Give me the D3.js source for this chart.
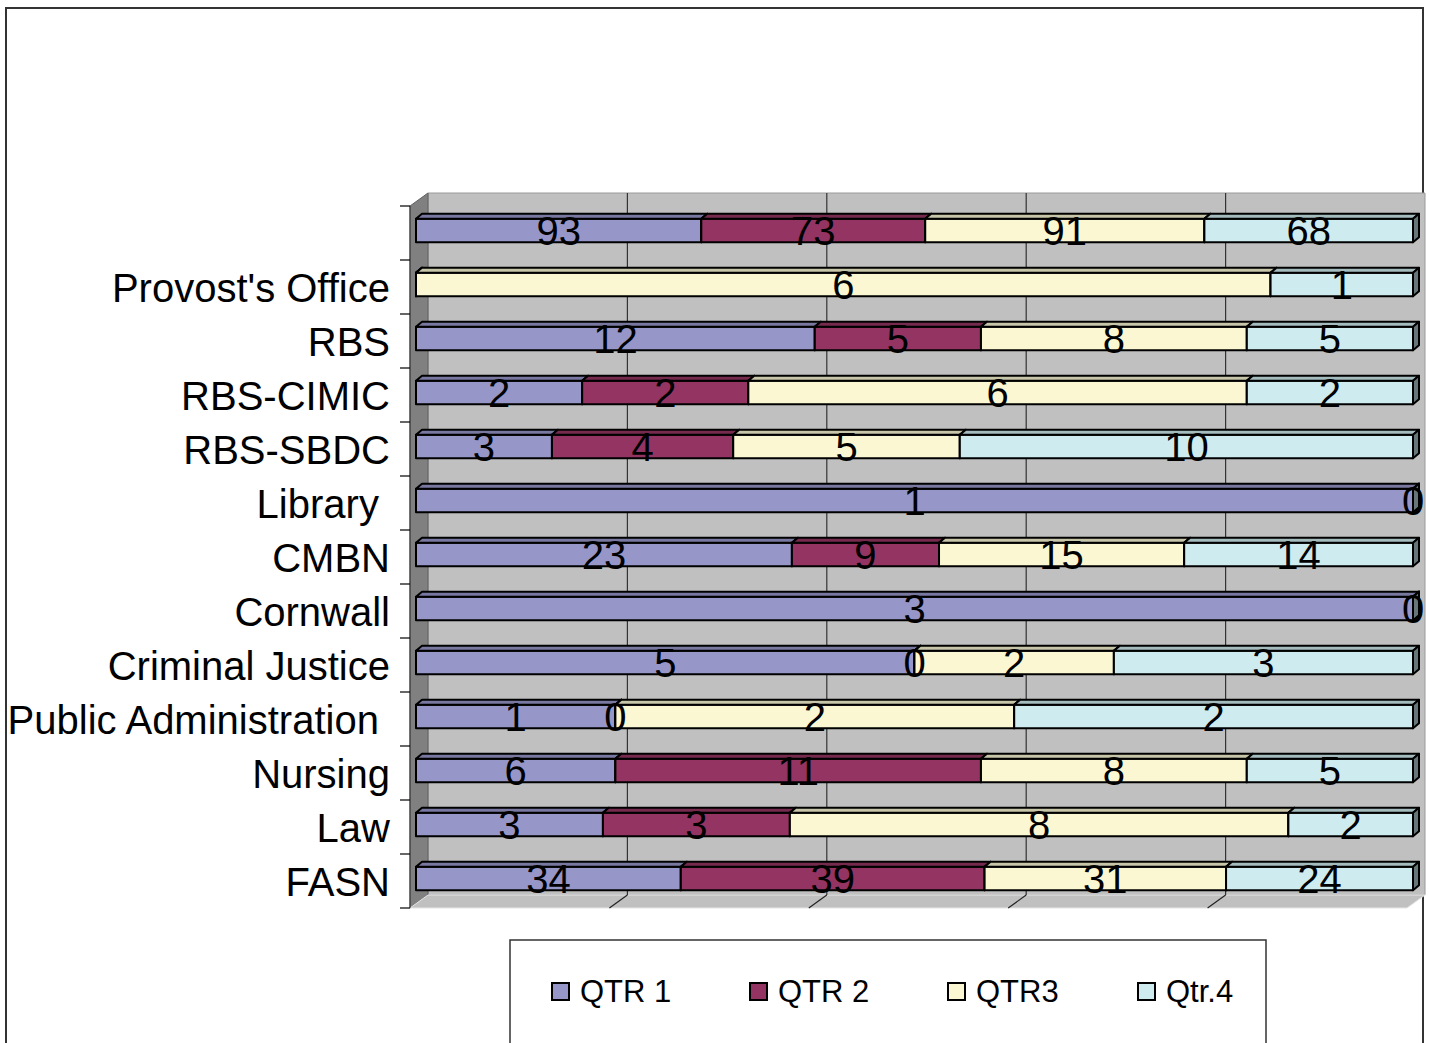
<!DOCTYPE html>
<html lang="en">
    <head>
        <meta charset="utf-8">
        <title>Quarterly counts by unit</title>
        <script src="https://d3js.org/d3.v7.min.js"></script>
        <style type="text/css">
            body{
                margin: 0;
                background: white;
            }
            .axisLabel{
                font-family: "Liberation Sans", Arial, sans-serif;
                font-size: 40px;
                white-space: pre;
            }
            .valueLabel{
                font-family: "Liberation Sans", Arial, sans-serif;
                font-size: 40px;
            }
            .legendLabel{
                font-family: "Liberation Sans", Arial, sans-serif;
                font-size: 31px;
            }
        </style>
    </head>
    <body>
        <script type="text/javascript">

            // data, top row first (the top row has no name in the source)
            const categories = ["", "Provost's Office", "RBS", "RBS-CIMIC", "RBS-SBDC", "Library ", "CMBN",
                                "Cornwall", "Criminal Justice", "Public Administration ", "Nursing", "Law", "FASN"];
            const qtr1 = [93, null, 12, 2, 3, 1, 23, 3, 5, 1, 6, 3, 34];
            const qtr2 = [73, null, 5, 2, 4, null, 9, null, 0, 0, 11, 3, 39];
            const qtr3 = [91, 6, 8, 6, 5, null, 15, null, 2, 2, 8, 8, 31];
            const qtr4 = [68, 1, 5, 2, 10, 0, 14, 0, 3, 2, 5, 2, 24];
            const seriesNames = ["QTR 1", "QTR 2", "QTR3", "Qtr.4"];
            const seriesColors = ["#9696c8", "#943462", "#faf7d2", "#ceebef"];

            const w = 1429;
            const h = 1043;

            // plot geometry (front plane + depth offset)
            const x0 = 410, plotW = 997;
            const yTop = 206, yBottom = 908;
            const dx = 18, dy = -13;
            const bx = 6, by = -5;   // bar depth

            const rows = categories.map((c, i) => ({
                idx: i, name: c,
                "QTR 1": qtr1[i], "QTR 2": qtr2[i], "QTR3": qtr3[i], "Qtr.4": qtr4[i]
            }));

            const stack = d3.stack()
                .keys(seriesNames)
                .value((d, k) => d[k] == null ? 0 : d[k])
                .offset(d3.stackOffsetExpand);
            const stacked = stack(rows);

            const x = d3.scaleLinear().domain([0, 1]).range([x0, x0 + plotW]);
            const y = d3.scaleBand().domain(rows.map(d => d.idx)).range([yTop, yBottom]);
            const barH = y.bandwidth() / 2.3;

            const svg = d3.select("body")
                .append("svg")
                .attr("width", w)
                .attr("height", h);

            // chart border
            svg.append("rect")
                .attr("x", 6).attr("y", 8)
                .attr("width", 1417).attr("height", h + 10)
                .attr("fill", "white")
                .attr("stroke", "#333")
                .attr("stroke-width", 2);

            // walls
            svg.append("polygon")
                .attr("points", [[x0 + dx, yTop + dy], [x0 + plotW + dx, yTop + dy], [x0 + plotW + dx, yBottom + dy], [x0 + dx, yBottom + dy]].join(" "))
                .attr("fill", "#c0c0c0")
                .attr("stroke", "#9a9a9a");
            svg.append("polygon")
                .attr("points", [[x0, yTop], [x0 + dx, yTop + dy], [x0 + dx, yBottom + dy], [x0, yBottom]].join(" "))
                .attr("fill", "#808080")
                .attr("stroke", "#606060");
            svg.append("polygon")
                .attr("points", [[x0, yBottom], [x0 + dx, yBottom + dy], [x0 + plotW + dx, yBottom + dy], [x0 + plotW, yBottom]].join(" "))
                .attr("fill", "#c0c0c0")
                .attr("stroke", "#e6e6e6");

            // gridlines on back wall and floor
            const ticks = [0.2, 0.4, 0.6, 0.8];
            svg.selectAll("line.grid")
                .data(ticks)
                .enter()
                .append("line")
                .attr("class", "grid")
                .attr("x1", d => x(d) + dx).attr("x2", d => x(d) + dx)
                .attr("y1", yTop + dy).attr("y2", yBottom + dy)
                .attr("stroke", "#333").attr("stroke-width", 1.2);
            svg.selectAll("line.floorGrid")
                .data(ticks)
                .enter()
                .append("line")
                .attr("class", "floorGrid")
                .attr("x1", d => x(d) + dx).attr("x2", d => x(d))
                .attr("y1", yBottom + dy).attr("y2", yBottom)
                .attr("stroke", "#222").attr("stroke-width", 1.2);

            // category axis
            svg.append("line")
                .attr("x1", x0).attr("x2", x0)
                .attr("y1", yTop).attr("y2", yBottom)
                .attr("stroke", "#333");
            const tickYs = rows.map(d => y(d.idx)).concat([yBottom]);
            svg.selectAll("line.ytick")
                .data(tickYs)
                .enter()
                .append("line")
                .attr("class", "ytick")
                .attr("x1", x0 - 10).attr("x2", x0)
                .attr("y1", d => d).attr("y2", d => d)
                .attr("stroke", "black").attr("stroke-width", 1.2);
            svg.selectAll("text.axisLabel")
                .data(rows)
                .enter()
                .append("text")
                .attr("class", "axisLabel")
                .attr("x", 390)
                .attr("y", d => y(d.idx) + y.bandwidth() / 2 + 14.5)
                .attr("text-anchor", "end")
                .text(d => d.name);

            // bars: each segment is a small box (front, top, right side)
            const faceTop = d => y(d.data.idx) + y.bandwidth() / 2 - 2.5 - barH / 2;
            const shade = (c, k) => {
                const col = d3.rgb(c);
                return d3.rgb(col.r * k, col.g * k, col.b * k);
            };

            const series = svg.selectAll("g.series")
                .data(stacked)
                .enter()
                .append("g")
                .attr("class", "series");

            const segs = series.selectAll("g.seg")
                .data(s => s.map(d => Object.assign(d, { key: s.key, color: seriesColors[s.index] })))
                .enter()
                .append("g")
                .attr("class", "seg");

            segs.append("rect")
                .attr("x", d => x(d[0]) + bx)
                .attr("y", faceTop)
                .attr("width", d => x(d[1]) - x(d[0]))
                .attr("height", barH)
                .attr("fill", d => d.color)
                .attr("stroke", "black")
                .attr("stroke-width", 2)
                .attr("stroke-linejoin", "round");

            segs.append("polygon")
                .attr("points", d => {
                    const xa = x(d[0]) + bx, xb = x(d[1]) + bx, t = faceTop(d);
                    return [[xa, t], [xa + bx, t + by], [xb + bx, t + by], [xb, t]].join(" ");
                })
                .attr("fill", d => shade(d.color, 0.8))
                .attr("stroke", "black")
                .attr("stroke-width", 2)
                .attr("stroke-linejoin", "round");

            segs.append("polygon")
                .attr("points", d => {
                    const xb = x(d[1]) + bx, t = faceTop(d);
                    return [[xb, t], [xb + bx, t + by], [xb + bx, t + by + barH], [xb, t + barH]].join(" ");
                })
                .attr("fill", d => shade(d.color, 0.5))
                .attr("stroke", "black")
                .attr("stroke-width", 2)
                .attr("stroke-linejoin", "round");

            // value labels (drawn last so they sit over every box)
            const labelData = stacked.flatMap(s => s.filter(d => d.data[s.key] != null));
            svg.selectAll("text.valueLabel")
                .data(labelData)
                .enter()
                .append("text")
                .attr("class", "valueLabel")
                .attr("x", d => (x(d[0]) + x(d[1])) / 2 + bx)
                .attr("y", d => faceTop(d) + barH / 2 + 14.5)
                .attr("text-anchor", "middle")
                .text(d => d.data[d.key]);

            // legend
            svg.append("rect")
                .attr("x", 510).attr("y", 940)
                .attr("width", 756).attr("height", 120)
                .attr("fill", "white")
                .attr("stroke", "#333")
                .attr("stroke-width", 1.5);

            const legendX = [552, 750, 948, 1138];
            const legend = svg.selectAll("g.legend")
                .data(seriesNames)
                .enter()
                .append("g")
                .attr("class", "legend")
                .attr("transform", (d, i) => "translate(" + legendX[i] + ",983)");
            legend.append("rect")
                .attr("width", 17).attr("height", 17)
                .attr("fill", (d, i) => seriesColors[i])
                .attr("stroke", "black")
                .attr("stroke-width", 2);
            legend.append("text")
                .attr("class", "legendLabel")
                .attr("x", 28)
                .attr("y", 19)
                .text(d => d);

        </script>
    </body>
</html>
